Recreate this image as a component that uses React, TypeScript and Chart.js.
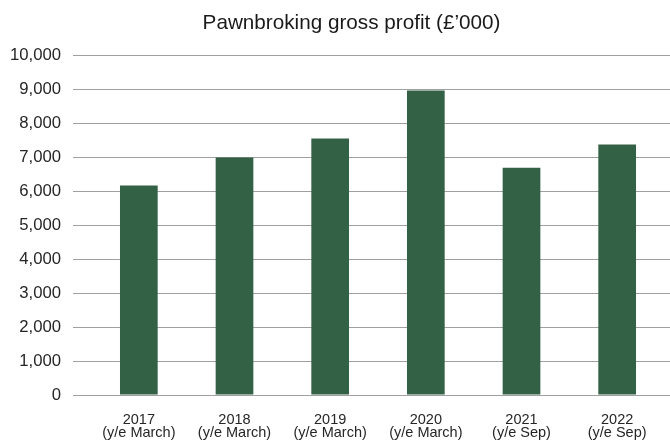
import React, { useEffect, useRef } from "react";
import { Chart, registerables } from "chart.js";

Chart.register(...registerables);

const years = ["2017", "2018", "2019", "2020", "2021", "2022"];
const periods = ["(y/e March)", "(y/e March)", "(y/e March)", "(y/e March)", "(y/e Sep)", "(y/e Sep)"];
const grossProfit = [6170, 7000, 7560, 8970, 6700, 7380];
const chartTitle = "Pawnbroking gross profit (£\u2019000)";
const yMin = 0;
const yMax = 10000;
const yStep = 1000;

const FONT = "'Liberation Sans', Arial, sans-serif";
const GRID = "#a0a0a0";

export default function App() {
  const ref = useRef<HTMLCanvasElement | null>(null);

  useEffect(() => {
    if (!ref.current) return;
    const labels = years.map((y, i) => [y, periods[i]]);
    const chart = new Chart(ref.current, {
      type: "bar",
      data: {
        labels,
        datasets: [
          {
            data: grossProfit,
            backgroundColor: "#336146",
            borderWidth: 0,
            categoryPercentage: 1,
            barPercentage: 0.394,
          },
        ],
      },
      options: {
        animation: false,
        responsive: false,
        layout: { padding: { left: 0, right: -33, top: 0, bottom: 0 } },
        plugins: {
          legend: { display: false },
          tooltip: { enabled: false },
          title: {
            display: true,
            text: chartTitle,
            color: "#1a1a1a",
            font: { family: FONT, size: 20.7, weight: "normal", lineHeight: 1.2 },
            padding: { top: 10.5, bottom: 20.3 },
          },
        },
        scales: {
          x: {
            grid: { display: false },
            border: { display: false },
            ticks: {
              color: "#262626",
              font: { family: FONT, size: 14.5, lineHeight: "12.8px" },
              padding: 10.5,
              maxRotation: 0,
              autoSkip: false,
            },
            afterFit: (s: any) => {
              s.height = 48;
            },
          },
          y: {
            min: yMin,
            max: yMax,
            border: { display: false },
            grid: { color: GRID, lineWidth: 1, tickLength: 18, drawTicks: true, tickColor: GRID },
            ticks: {
              stepSize: yStep,
              color: "#262626",
              padding: 12,
              font: { family: FONT, size: 16.7 },
              callback: (v: any) => Number(v).toLocaleString("en-US"),
            },
            afterFit: (s: any) => {
              s.width = 91;
            },
          },
          y2: {
            position: "right",
            min: yMin,
            max: yMax,
            border: { display: false },
            grid: { color: GRID, lineWidth: 1, tickLength: 5, drawTicks: true, drawOnChartArea: false, tickColor: GRID },
            ticks: { stepSize: yStep, display: false },
            afterFit: (s: any) => {
              s.width = 38;
            },
          },
        },
      },
    });
    return () => chart.destroy();
  }, []);

  return (
    <div style={{ position: "absolute", left: 0, top: 0, width: 670, height: 443, background: "#fff" }}>
      <canvas ref={ref} width={670} height={443} style={{ display: "block" }} />
    </div>
  );
}
